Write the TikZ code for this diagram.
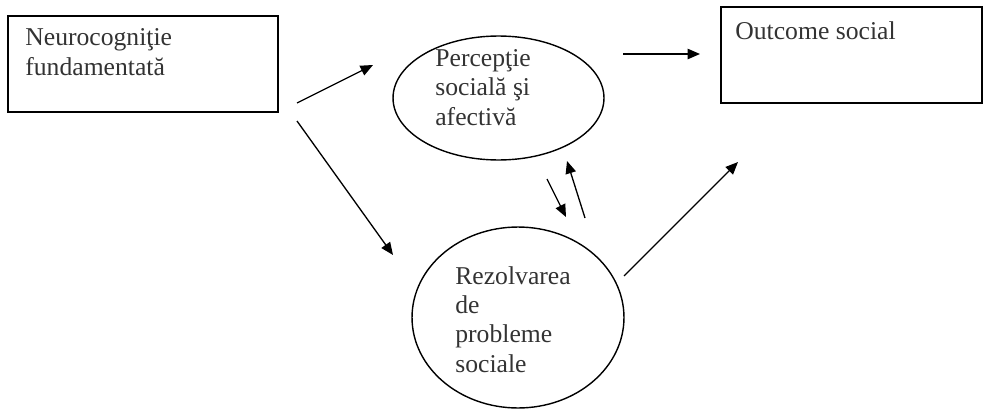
\documentclass[tikz,border=0pt]{standalone}
\usepackage{fontspec}
\setmainfont{Liberation Serif}
\usetikzlibrary{shapes.geometric,arrows.meta}

\tikzset{
    box/.style={rectangle,draw,line width=0.8pt},
    oval/.style={ellipse,draw,line width=0.8pt},
    txt/.style={anchor=base west,inner sep=0,align=left,text=black!80,font=\fontsize{14.6pt}{16.6pt}\selectfont},
    arr/.style={-{Triangle[length=0.25cm,width=0.21cm]},line width=0.75pt}
    }

\begin{document}
\begin{tikzpicture}[x=0.02cm, y=-0.02cm]
                \useasboundingbox (0,0) rectangle (983,409);
                % The boxes and ovals
                \node(neuro)[box, minimum width=5.4cm, minimum height=1.92cm] at (143,64) {};
                \node(outcome)[box, minimum width=5.22cm, minimum height=1.92cm] at (851.5,55) {};
                \node(percep)[oval, minimum width=4.22cm, minimum height=2.48cm] at (498.5,98) {};
                \node(rezolv)[oval, minimum width=4.24cm, minimum height=3.62cm] at (518,317.5) {};
                % The texts (placed at the baseline of their last line)
                \node(neurotxt)[txt] at (25,75) {Neurocogniţie\\fundamentată};
                \node(outcometxt)[txt] at (735,39) {Outcome social};
                \node(perceptxt)[txt] at (435,125) {Percepţie\\socială şi\\afectivă};
                \node(rezolvtxt)[txt] at (455,372) {Rezolvarea\\de\\probleme\\sociale};
                % The arrows
                \coordinate(n1) at (297,103);  \coordinate(p1) at (373,65);
                \coordinate(n2) at (297,121);  \coordinate(r1) at (393,255);
                \coordinate(p2) at (623,54);   \coordinate(o1) at (700,54);
                \coordinate(p3) at (547,179);  \coordinate(r2) at (566,217);
                \coordinate(r3) at (585,218);  \coordinate(p4) at (567,161);
                \coordinate(r4) at (624,276);  \coordinate(o2) at (738,162);
                \draw[arr] (n1) -- (p1);
                \draw[arr] (n2) -- (r1);
                \draw[arr] (p2) -- (o1);
                \draw[arr] (p3) -- (r2);
                \draw[arr] (r3) -- (p4);
                \draw[arr] (r4) -- (o2);
            \end{tikzpicture}
\end{document}
